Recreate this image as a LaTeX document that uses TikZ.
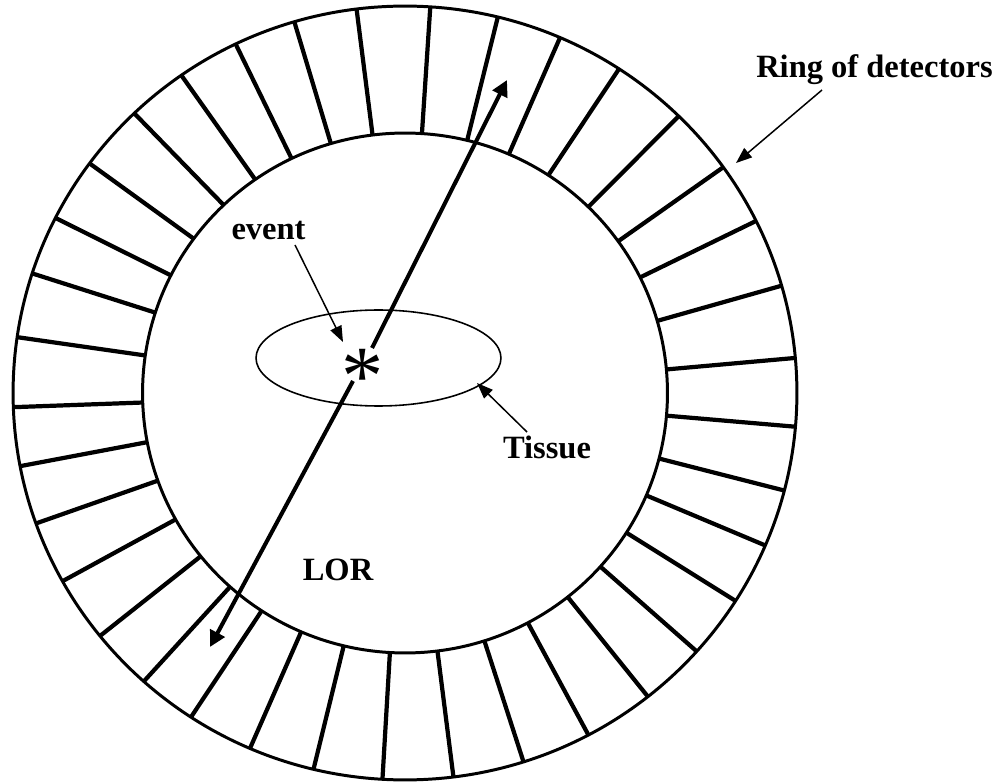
\documentclass[tikz,border=0pt]{standalone}
\usepackage{fontspec}
\setmainfont{Liberation Serif}
\usetikzlibrary{arrows.meta,calc,shapes.geometric}
\begin{document}
\begin{tikzpicture}[x=0.02cm,y=-0.02cm,
  ringline/.style={line width=1.7pt},
  det/.style={line width=2.4pt},
  lor/.style={line width=2.3pt,-{Triangle[length=0.32cm,width=0.32cm]}},
  ann/.style={line width=0.85pt,-{Triangle[length=0.32cm,width=0.24cm]}},
  lbl/.style={font=\fontsize{18.5}{22}\selectfont\bfseries, inner sep=0pt, anchor=base}]
\useasboundingbox (0,0) rectangle (1000,783);
\coordinate (c) at (405,393);
\draw[ringline] (c) ellipse [x radius=7.84cm, y radius=7.74cm];
\draw[ringline] (c) ellipse [x radius=5.25cm, y radius=5.2cm];
\foreach \a in {5.2,16.1,26.4,35.7,45.7,56.9,66.7,76.3,86.3,97.1,106.4,115.6,124.8,133.7,143.6,153.1,162,171.7,182.1,190.9,199.7,209.1,218.9,228.2,236.9,246.7,256.5,266.7,277.1,287.6,297.9,308.3,318.1,327.5,336.8,345.4,355.0}
  \draw[det] ($(c)+(\a:5.25cm and 5.2cm)$) -- ($(c)+(\a:7.84cm and 7.74cm)$);
% tissue
\node[draw, ellipse, line width=0.9pt, minimum width=4.9cm, minimum height=1.92cm, inner sep=0pt] (tissue) at (378.5,358) {};
% asterisk
\node[font=\fontsize{48}{50}\selectfont, inner sep=0pt, anchor=base] (ast) at (363,405) {*};
% LOR
\coordinate (lorA) at (210,647);
\coordinate (lorB) at (507,80);
\coordinate (p1) at (372,348);
\coordinate (p2) at (353,381);
\draw[lor] (p1) -- (lorB);
\draw[lor] (p2) -- (lorA);
% labels
\node[lbl] (ring) at (874.5,77.5) {Ring of detectors};
\node[lbl] (event) at (268.5,240) {event};
\node[lbl] (tis) at (547,459) {Tissue};
\node[lbl] (lorl) at (338,580) {LOR};
% annotation arrows
\coordinate (ringtip) at (736,163);
\coordinate (eventtip) at (343,342);
\coordinate (tistip) at (477,383);
\draw[ann] ($(ring.base)+(-52.5,12.5)$) -- (ringtip);
\draw[ann] ($(event.base)+(26.5,5)$) -- (eventtip);
\draw[ann] ($(tis.base)+(-20,-27)$) -- (tistip);
\end{tikzpicture}
\end{document}
